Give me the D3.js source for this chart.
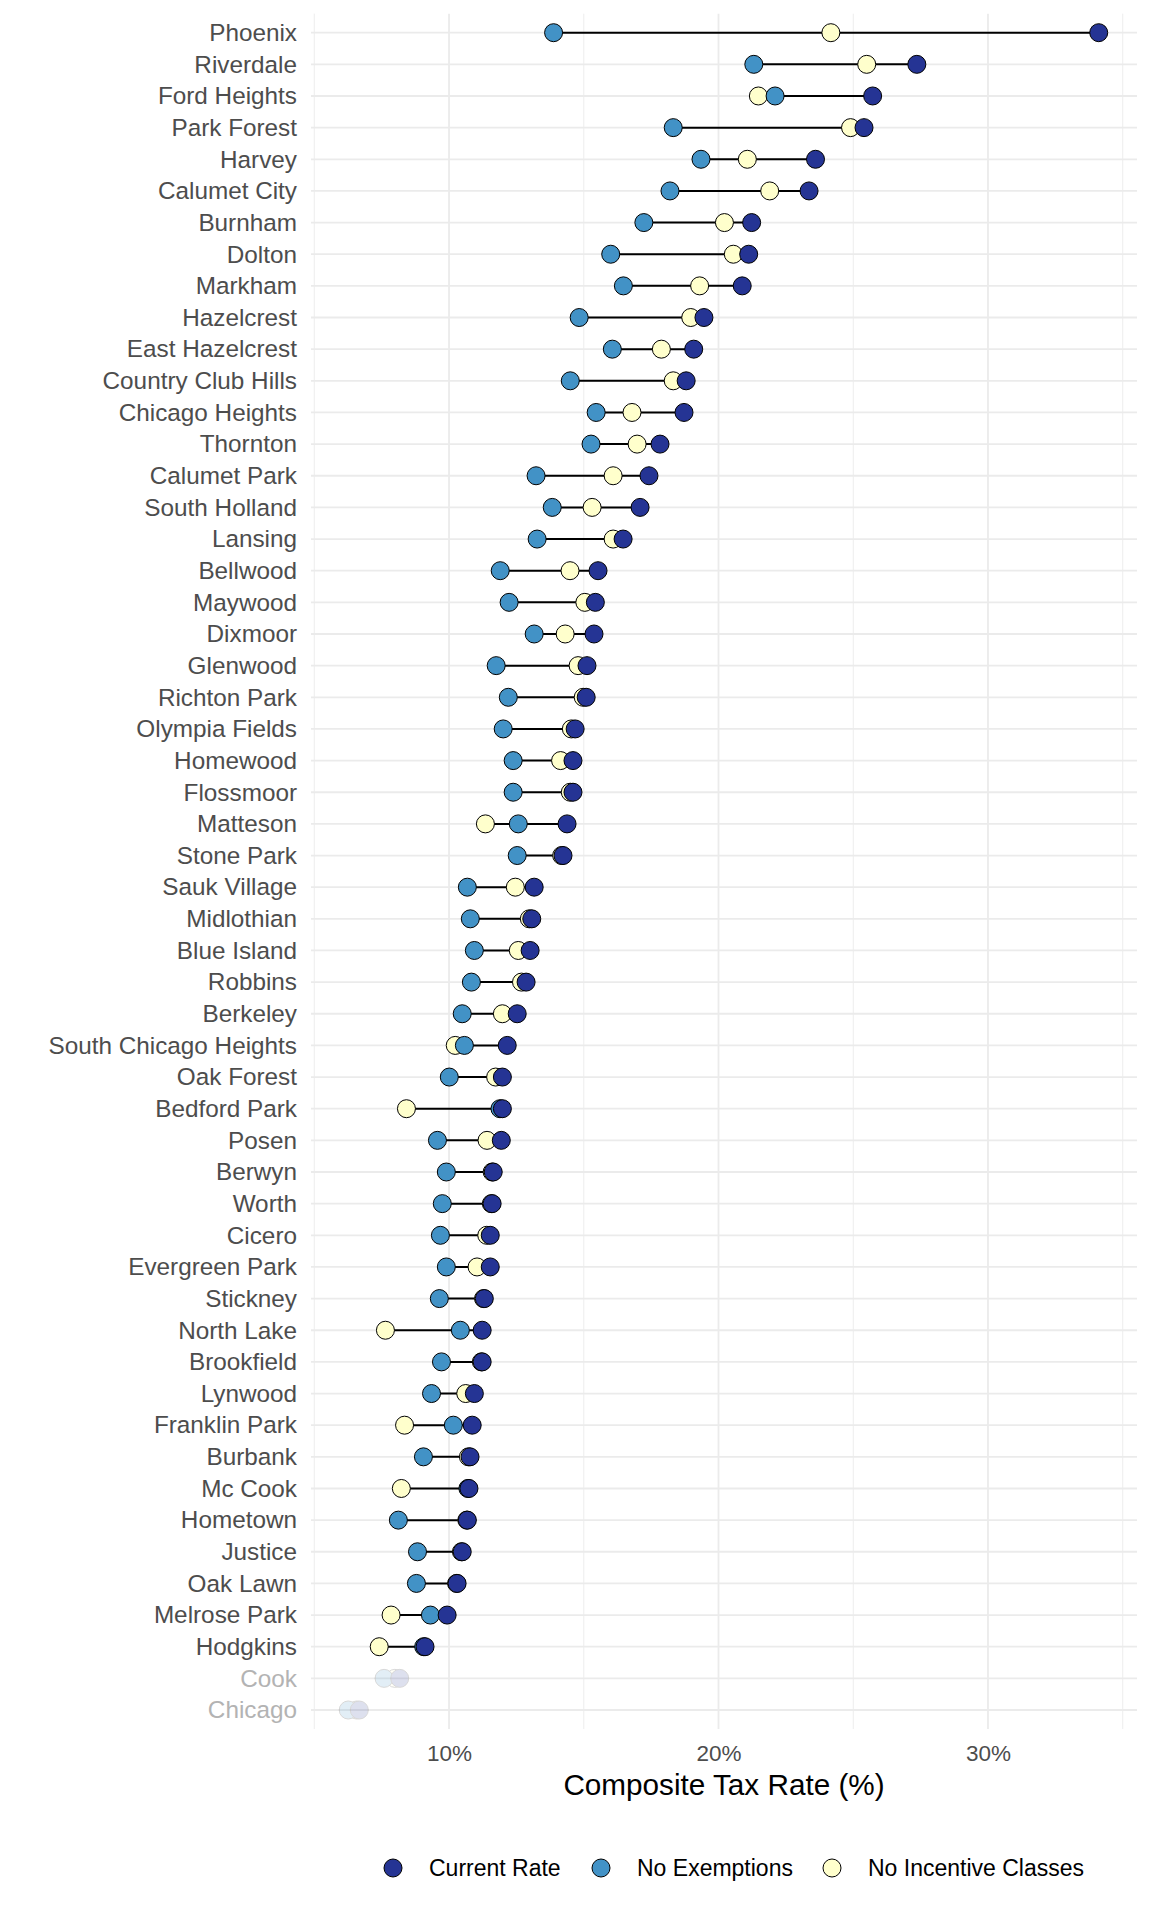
<!DOCTYPE html>
<html>
<head>
<meta charset="utf-8">
<script src="https://cdn.jsdelivr.net/npm/d3@7"></script>
<style>
  body { margin: 0; background: #fff; }
  svg text { font-family: "Liberation Sans", Arial, sans-serif; }
</style>
</head>
<body>
<div id="chart"></div>
<script>
// municipalities, sorted by current rate (top to bottom)
var municipalities = ["Phoenix", "Riverdale", "Ford Heights", "Park Forest", "Harvey", "Calumet City",
  "Burnham", "Dolton", "Markham", "Hazelcrest", "East Hazelcrest", "Country Club Hills",
  "Chicago Heights", "Thornton", "Calumet Park", "South Holland", "Lansing", "Bellwood",
  "Maywood", "Dixmoor", "Glenwood", "Richton Park", "Olympia Fields", "Homewood",
  "Flossmoor", "Matteson", "Stone Park", "Sauk Village", "Midlothian", "Blue Island",
  "Robbins", "Berkeley", "South Chicago Heights", "Oak Forest", "Bedford Park", "Posen",
  "Berwyn", "Worth", "Cicero", "Evergreen Park", "Stickney", "North Lake",
  "Brookfield", "Lynwood", "Franklin Park", "Burbank", "Mc Cook", "Hometown",
  "Justice", "Oak Lawn", "Melrose Park", "Hodgkins", "Cook", "Chicago"];

var currentRate = [34.11, 27.36, 25.72, 25.4, 23.6, 23.36,
  21.23, 21.12, 20.88, 19.46, 19.08, 18.8,
  18.72, 17.83, 17.42, 17.09, 16.46, 15.53,
  15.43, 15.38, 15.12, 15.09, 14.68, 14.6,
  14.6, 14.38, 14.23, 13.16, 13.07, 13.01,
  12.86, 12.53, 12.16, 11.98, 11.98, 11.94,
  11.64, 11.6, 11.53, 11.53, 11.31, 11.23,
  11.23, 10.94, 10.86, 10.78, 10.74, 10.68,
  10.49, 10.3, 9.93, 9.11, 8.17, 6.67];

var noExemptions = [13.88, 21.31, 22.1, 18.32, 19.35, 18.2,
  17.23, 16.0, 16.47, 14.83, 16.06, 14.5,
  15.46, 15.27, 13.23, 13.83, 13.27, 11.9,
  12.23, 13.16, 11.75, 12.2, 12.01, 12.38,
  12.38, 12.57, 12.53, 10.68, 10.79, 10.94,
  10.83, 10.49, 10.57, 10.01, 11.89, 9.57,
  9.9, 9.75, 9.68, 9.9, 9.64, 10.42,
  9.72, 9.35, 10.16, 9.05, 10.7, 8.12,
  8.83, 8.79, 9.31, 9.06, 7.59, 6.26];

var noIncentive = [24.17, 25.5, 21.48, 24.9, 21.07, 21.9,
  20.22, 20.55, 19.3, 18.97, 17.88, 18.32,
  16.79, 16.98, 16.09, 15.31, 16.09, 14.49,
  15.04, 14.31, 14.79, 14.98, 14.54, 14.14,
  14.5, 11.35, 14.18, 12.46, 12.98, 12.57,
  12.69, 11.98, 10.23, 11.73, 8.42, 11.41,
  11.6, 11.57, 11.4, 11.04, 11.28, 7.64,
  11.2, 10.62, 8.35, 10.72, 8.23, 10.66,
  10.46, 10.28, 7.85, 7.41, 7.99, 6.57];

// reference rows shown faded
var fadedRows = ["Cook", "Chicago"];

var seriesNames = ["Current Rate", "No Exemptions", "No Incentive Classes"];
var seriesColors = ["#253494", "#4292c6", "#ffffcc"];

var xMajor = [10, 20, 30];
var xMinor = [5, 15, 25, 35];

var width = 1152, height = 1920;
var m = {top: 13.7, right: 15, bottom: 191, left: 311};
var panelRight = width - m.right;
var panelBottom = height - m.bottom;

var rows = municipalities.map(function (d, i) {
  return {name: d, vals: [currentRate[i], noExemptions[i], noIncentive[i]],
    faded: fadedRows.indexOf(d) >= 0};
});

var svg = d3.select("#chart").append("svg")
  .attr("width", width)
  .attr("height", height);

var x = d3.scaleLinear()
  .domain([4.878, 35.53])
  .range([m.left, panelRight]);

var y = d3.scalePoint()
  .domain(municipalities)
  .range([m.top, panelBottom])
  .padding(0.6);

// grid
var grid = svg.append("g");
grid.selectAll(".minor").data(xMinor).enter().append("line")
  .attr("x1", function (d) { return x(d); })
  .attr("x2", function (d) { return x(d); })
  .attr("y1", m.top).attr("y2", panelBottom)
  .attr("stroke", "#ebebeb").attr("stroke-width", 0.9);
grid.selectAll(".major").data(xMajor).enter().append("line")
  .attr("x1", function (d) { return x(d); })
  .attr("x2", function (d) { return x(d); })
  .attr("y1", m.top).attr("y2", panelBottom)
  .attr("stroke", "#ebebeb").attr("stroke-width", 1.8);
grid.selectAll(".hline").data(municipalities).enter().append("line")
  .attr("x1", m.left).attr("x2", panelRight)
  .attr("y1", function (d) { return y(d); })
  .attr("y2", function (d) { return y(d); })
  .attr("stroke", "#ebebeb").attr("stroke-width", 1.8);

// axes
var xAxis = svg.append("g")
  .attr("transform", "translate(0," + panelBottom + ")")
  .call(d3.axisBottom(x).tickValues(xMajor).tickSize(0).tickPadding(16)
    .tickFormat(function (d) { return d + "%"; }));
xAxis.select(".domain").remove();
xAxis.selectAll("text").attr("font-size", 22.5).attr("fill", "#4d4d4d")
  .style("font-family", "'Liberation Sans', Arial, sans-serif");

var yAxis = svg.append("g")
  .attr("transform", "translate(" + m.left + ",0)")
  .call(d3.axisLeft(y).tickSize(0).tickPadding(14));
yAxis.select(".domain").remove();
yAxis.selectAll("text").attr("font-size", 24.3)
  .attr("fill", function (d) { return fadedRows.indexOf(d) >= 0 ? "#b3b3b3" : "#4d4d4d"; })
  .style("font-family", "'Liberation Sans', Arial, sans-serif");

svg.append("text")
  .attr("x", (m.left + panelRight) / 2)
  .attr("y", 1795)
  .attr("text-anchor", "middle")
  .attr("font-size", 29.7)
  .attr("fill", "#000")
  .text("Composite Tax Rate (%)");

// dumbbells
var rowG = svg.append("g").selectAll("g").data(rows).enter().append("g")
  .attr("opacity", function (d) { return d.faded ? 0.15 : 1; });

rowG.append("line")
  .attr("x1", function (d) { return x(d3.min(d.vals)); })
  .attr("x2", function (d) { return x(d3.max(d.vals)); })
  .attr("y1", function (d) { return y(d.name); })
  .attr("y2", function (d) { return y(d.name); })
  .attr("stroke", "#000").attr("stroke-width", 2);

// draw order: no incentive, no exemptions, current rate
[2, 1, 0].forEach(function (k) {
  rowG.append("circle")
    .attr("cx", function (d) { return x(d.vals[k]); })
    .attr("cy", function (d) { return y(d.name); })
    .attr("r", 9)
    .attr("fill", seriesColors[k])
    .attr("stroke", "#000")
    .attr("stroke-width", 1);
});

// legend
var legendX = [393, 601, 832];
var legend = svg.append("g").selectAll("g").data(seriesNames).enter().append("g")
  .attr("transform", function (d, i) { return "translate(" + legendX[i] + ",1868)"; });
legend.append("circle")
  .attr("r", 9)
  .attr("fill", function (d, i) { return seriesColors[i]; })
  .attr("stroke", "#000").attr("stroke-width", 1);
legend.append("text")
  .attr("x", 36)
  .attr("dy", "0.35em")
  .attr("font-size", 23)
  .attr("fill", "#000")
  .text(function (d) { return d; });
</script>
</body>
</html>
